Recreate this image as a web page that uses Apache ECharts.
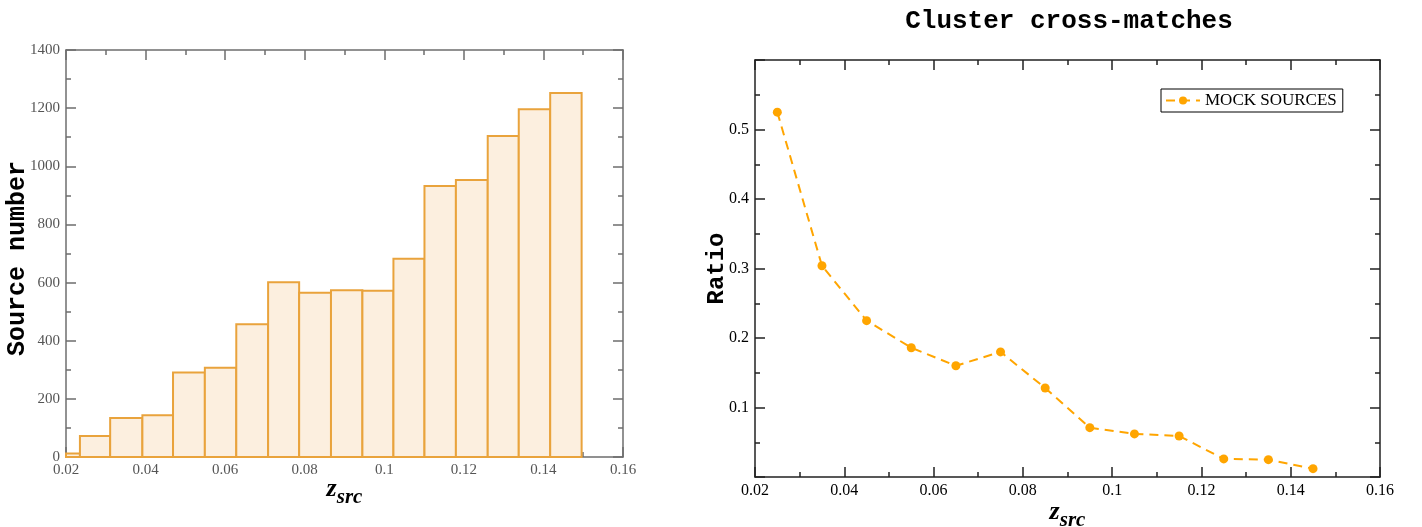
<!DOCTYPE html>
<html>
<head>
<meta charset="utf-8">
<script src="https://cdn.jsdelivr.net/npm/echarts@6/dist/echarts.min.js"></script>
<style>
html,body{margin:0;padding:0;background:#fff;}
#main{width:1422px;height:527px;}
</style>
</head>
<body>
<div id="main"></div>
<script>
// Left histogram: bin edges and counts
const binEdges = [0.02, 0.0235, 0.0311, 0.0392, 0.0469, 0.0549, 0.0628, 0.0708, 0.0786, 0.0866, 0.0945, 0.1023, 0.1101, 0.1180, 0.1260, 0.1338, 0.1417, 0.1496];
const counts = [12, 72, 134, 144, 291, 307, 457, 601, 565, 574, 572, 682, 932, 953, 1104, 1196, 1252];
// Right line chart
const zsrc = [0.025, 0.035, 0.045, 0.055, 0.065, 0.075, 0.085, 0.095, 0.105, 0.115, 0.125, 0.135, 0.145];
const ratio = [0.525, 0.304, 0.225, 0.186, 0.160, 0.180, 0.128, 0.071, 0.062, 0.059, 0.026, 0.025, 0.012];
const seriesName = 'MOCK SOURCES';
const titleText = 'Cluster cross-matches';

const histData = counts.map((c, i) => [binEdges[i], binEdges[i + 1], c]);
const lineData = zsrc.map((x, i) => [x, ratio[i]]);

const serif = 'Liberation Serif';
const mono = 'Liberation Mono';

const zName = {
  z: {fontFamily: serif, fontStyle: 'italic', fontWeight: 'bold', fontSize: 26, color: '#000'},
  s: {fontFamily: serif, fontStyle: 'italic', fontWeight: 'bold', fontSize: 21, color: '#000', padding: [16, 0, 0, 0]}
};

function xAx(grid, pos, showLabel, color, labelColor, lab, gap) {
  return {
    type: 'value', gridIndex: grid, position: pos, min: 0.02, max: 0.16, interval: 0.02,
    axisLine: {show: true, onZero: false, lineStyle: {color: color, width: 1.5}},
    axisTick: {show: true, inside: true, length: 10, lineStyle: {color: color, width: 1.5}},
    minorTick: {show: true, splitNumber: 2, length: 5, lineStyle: {color: color, width: 1.5}},
    splitLine: {show: false},
    axisLabel: {show: showLabel, color: labelColor, fontFamily: serif, fontSize: lab, margin: 6,
      formatter: v => String(Math.round(v * 100) / 100)},
    name: showLabel ? '{z|z}{s|src}' : '',
    nameLocation: 'middle', nameGap: gap, nameMoveOverlap: false,
    nameTextStyle: {rich: zName}
  };
}
function yAx(grid, pos, showLabel, cfg) {
  return {
    type: 'value', gridIndex: grid, position: pos,
    min: cfg.min, max: cfg.max, interval: cfg.interval,
    axisLine: {show: true, onZero: false, lineStyle: {color: cfg.color, width: 1.5}},
    axisTick: {show: true, inside: true, length: 10, lineStyle: {color: cfg.color, width: 1.5}},
    minorTick: {show: true, splitNumber: 2, length: 5, lineStyle: {color: cfg.color, width: 1.5}},
    splitLine: {show: false},
    axisLabel: {show: showLabel, color: cfg.labelColor, fontFamily: serif, fontSize: cfg.lab, margin: 6, formatter: cfg.formatter},
    name: showLabel ? cfg.name : '',
    nameLocation: 'middle', nameGap: cfg.nameGap, nameMoveOverlap: false,
    nameTextStyle: {fontFamily: mono, fontWeight: 'bold', fontSize: cfg.nameSize, color: '#000', padding: cfg.namePad}
  };
}

const leftY = {color: '#6e6e6e', labelColor: '#555', lab: 15, min: 0, max: 1400, interval: 200, name: 'Source number', nameGap: 36, nameSize: 25,
  namePad: [0, 10, 0, 0], formatter: v => String(v)};
const rightY = {color: '#222', labelColor: '#000', lab: 16, min: 0, max: 0.6, interval: 0.1, name: 'Ratio', nameGap: 26, nameSize: 24,
  namePad: [0, 0, 0, 0], formatter: v => (v <= 0.0001 || v >= 0.5999) ? '' : String(Math.round(v * 10) / 10)};

const option = {
  animation: false,
  backgroundColor: '#fff',
  title: {
    text: titleText, left: 1064, top: 3, textAlign: 'center',
    textStyle: {fontFamily: mono, fontWeight: 'bold', fontSize: 26, color: '#000'}
  },
  legend: {
    data: [seriesName], left: 1161, top: 89, orient: 'vertical',
    borderColor: '#000', borderWidth: 1, backgroundColor: '#fff', padding: [3, 6, 3, 4],
    itemWidth: 34, itemHeight: 10, itemGap: 0,
    textStyle: {fontFamily: serif, fontSize: 17, color: '#000'}
  },
  grid: [
    {left: 66, top: 50, width: 557, height: 407, outerBoundsMode: 'none', containLabel: false},
    {left: 755, top: 60, width: 625, height: 417, outerBoundsMode: 'none', containLabel: false}
  ],
  xAxis: [
    xAx(0, 'bottom', true, '#6e6e6e', '#555', 15, 14),
    xAx(0, 'top', false, '#6e6e6e', '#555', 15, 14),
    xAx(1, 'bottom', true, '#222', '#000', 16, 17),
    xAx(1, 'top', false, '#222', '#000', 16, 17)
  ],
  yAxis: [
    yAx(0, 'left', true, leftY),
    yAx(0, 'right', false, leftY),
    yAx(1, 'left', true, rightY),
    yAx(1, 'right', false, rightY)
  ],
  series: [
    {
      type: 'custom', xAxisIndex: 0, yAxisIndex: 0,
      encode: {x: [0, 1], y: 2},
      data: histData,
      renderItem: function (params, api) {
        const p0 = api.coord([api.value(0), api.value(2)]);
        const p1 = api.coord([api.value(1), 0]);
        return {
          type: 'rect',
          shape: {x: p0[0], y: p0[1], width: p1[0] - p0[0], height: p1[1] - p0[1]},
          style: {fill: '#fcefdf', stroke: '#e9a33c', lineWidth: 2}
        };
      }
    },
    {
      name: seriesName, type: 'line', xAxisIndex: 2, yAxisIndex: 2,
      data: lineData,
      symbol: 'circle', symbolSize: 9,
      itemStyle: {color: '#ffa500'},
      lineStyle: {color: '#ffa500', width: 2, type: [9, 6]}
    }
  ]
};

const chart = echarts.init(document.getElementById('main'), null, {renderer: 'canvas'});
chart.setOption(option);
</script>
</body>
</html>
